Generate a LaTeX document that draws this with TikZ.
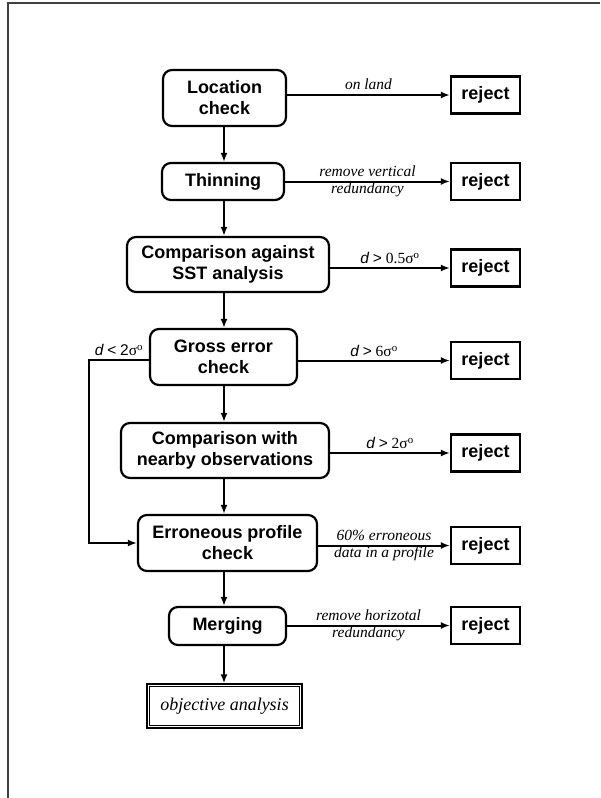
\documentclass[tikz,border=0pt]{standalone}
\usepackage{fontspec}
\setmainfont{Liberation Serif}
\setsansfont{Liberation Sans}
\usetikzlibrary{arrows.meta}
\begin{document}
\begin{tikzpicture}[x=1pt,y=-1pt,
  proc/.style={draw, line width=2.2pt, rounded corners=9pt, align=center, inner sep=0pt,
    font=\sffamily\bfseries\fontsize{18}{21}\selectfont},
  rej/.style={draw, line width=2.2pt, inner sep=0pt, minimum width=69pt, minimum height=37pt,
    font=\sffamily\bfseries\fontsize{18}{21}\selectfont},
  conn/.style={line width=2pt, -{Latex[length=9pt,width=7pt]}},
  lbl/.style={font=\itshape\fontsize{15.5}{17}\selectfont, align=center, inner sep=1pt},
  dlbl/.style={font=\fontsize{15.5}{17}\selectfont, inner sep=2pt},
  final/.style={draw, line width=1.4pt, inner sep=0pt,
    minimum width=155pt, minimum height=44pt, font=\itshape\fontsize{18}{21}\selectfont}]
\useasboundingbox (0,0) rectangle (600,798);
\draw[black!75, line width=1.2pt] (8,798) -- (8,3) -- (600,3);

\coordinate (ax) at (224,0);
\node[proc, minimum width=123pt, minimum height=56pt] (loc) at (224.5,98) {Location\\check};
\node[proc, minimum width=122pt, minimum height=37pt] (thin) at (223,181.5) {Thinning};
\node[proc, minimum width=202pt, minimum height=55pt] (sst) at (228,264.5) {Comparison against\\SST analysis};
\node[proc, minimum width=147pt, minimum height=56pt] (gross) at (223.5,357) {Gross error\\check};
\node[proc, minimum width=208pt, minimum height=55pt] (near) at (225,450.5) {Comparison with\\nearby observations};
\node[proc, minimum width=179pt, minimum height=56pt] (err) at (227.5,543) {Erroneous profile\\check};
\node[proc, minimum width=117pt, minimum height=38pt] (merge) at (227.5,626) {Merging};
\node[final] (obj) at (224.5,706) {objective analysis};
\draw[line width=1.1pt] ([shift={(3.2pt,3.2pt)}]obj.south west) rectangle ([shift={(-3.2pt,-3.2pt)}]obj.north east);

\node[rej] (r1) at (485.5,95) {reject};
\node[rej] (r2) at (485.5,181.5) {reject};
\node[rej] (r3) at (485.5,268) {reject};
\node[rej] (r4) at (485.5,360.5) {reject};
\node[rej] (r5) at (485.5,453) {reject};
\node[rej] (r6) at (485.5,545.5) {reject};
\node[rej] (r7) at (485.5,625.5) {reject};

\draw[conn] (loc.south -| ax) -- (thin.north -| ax);
\draw[conn] (thin.south -| ax) -- (sst.north -| ax);
\draw[conn] (sst.south -| ax) -- (gross.north -| ax);
\draw[conn] (gross.south -| ax) -- (near.north -| ax);
\draw[conn] (near.south -| ax) -- (err.north -| ax);
\draw[conn] (err.south -| ax) -- (merge.north -| ax);
\draw[conn] (merge.south -| ax) -- (obj.north -| ax);

\draw[conn] (loc.east |- r1.west) -- node[lbl, above=3pt] {on land} (r1.west);
\draw[conn] (thin.east |- r2.west) -- node[lbl] {remove vertical\\redundancy} (r2.west);
\draw[conn] (sst.east |- r3.west) -- node[dlbl, above=1pt] {{\sffamily\itshape d} {\sffamily >} 0.5σ\textsuperscript{o}} (r3.west);
\draw[conn] (gross.east |- r4.west) -- node[dlbl, above=1pt] {{\sffamily\itshape d} {\sffamily >} 6σ\textsuperscript{o}} (r4.west);
\draw[conn] (near.east |- r5.west) -- node[dlbl, above=1pt] {{\sffamily\itshape d} {\sffamily >} 2σ\textsuperscript{o}} (r5.west);
\draw[conn] (err.east |- r6.west) -- node[lbl] {60\% erroneous\\data in a profile} (r6.west);
\draw[conn] (merge.east |- r7.west) -- node[lbl] {remove horizotal\\redundancy} (r7.west);

\coordinate (lp) at (89,360);
\draw[conn] (gross.west |- lp) -- node[dlbl, above=1pt] {{\sffamily\itshape d} {\sffamily <} {\sffamily 2}σ\textsuperscript{o}} (lp) |- (err.west);
\end{tikzpicture}
\end{document}
